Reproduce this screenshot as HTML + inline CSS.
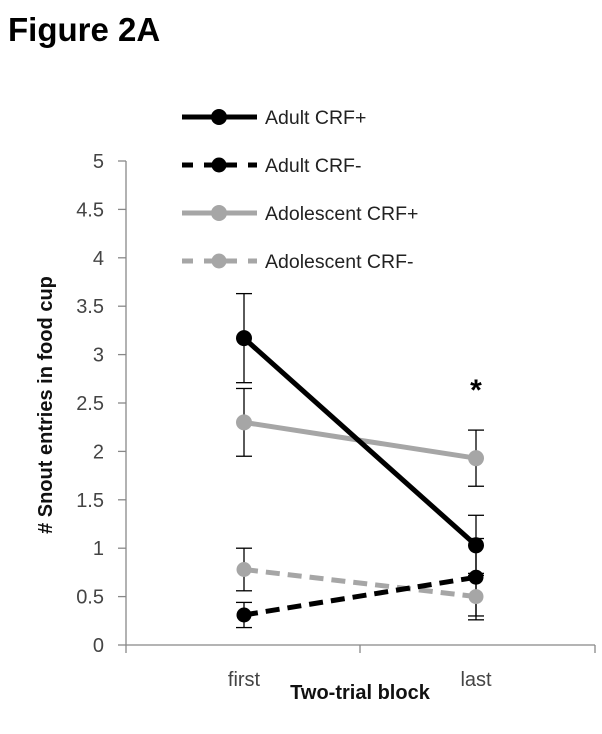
<!DOCTYPE html>
<html><head><meta charset="utf-8"><style>
body{margin:0;background:#fff;}
svg{display:block;font-family:"Liberation Sans",Arial,sans-serif;}
</style></head><body>
<svg width="602" height="734" viewBox="0 0 602 734">
<text x="8" y="41" font-size="33" font-weight="bold">Figure 2A</text>
<g id="axes"></g>
<g id="marks"></g>
<g id="legend"></g>
<text x="360" y="699" font-size="20" font-weight="bold" text-anchor="middle" fill="#111">Two-trial block</text>
<text transform="translate(52,405) rotate(-90)" font-size="20" font-weight="bold" text-anchor="middle" fill="#111"># Snout entries in food cup</text>
</svg>
<script>
const categories=["first","last"];
const seriesNames=["Adult CRF+","Adult CRF-","Adolescent CRF+","Adolescent CRF-"];
const adultPlus=[3.17,1.03], adultPlusErr=[0.46,0.31];
const adultMinus=[0.31,0.70], adultMinusErr=[0.13,0.40];
const adolPlus=[2.30,1.93], adolPlusErr=[0.35,0.29];
const adolMinus=[0.78,0.50], adolMinusErr=[0.22,0.24];
const yTicks=[0,0.5,1,1.5,2,2.5,3,3.5,4,4.5,5];
const yTickLabels=["0","0.5","1","1.5","2","2.5","3","3.5","4","4.5","5"];

const NS="http://www.w3.org/2000/svg";
const y=v=>645-v*96.8;
const x=i=>244+i*232;
function mk(tag,attrs,parent){const e=document.createElementNS(NS,tag);for(const k in attrs)e.setAttribute(k,attrs[k]);parent.appendChild(e);return e;}
const axes=document.getElementById('axes'),marks=document.getElementById('marks'),legend=document.getElementById('legend');

let yl=mk('line',{x1:126,y1:y(5),x2:126,y2:645,stroke:'#888','stroke-width':1.3},axes);


let xl=mk('line',{x1:126,y1:645,x2:595,y2:645,stroke:'#888','stroke-width':1.3},axes);


yTicks.forEach((v,i)=>{
  let t=mk('line',{x1:118,y1:y(v),x2:126,y2:y(v),stroke:'#888','stroke-width':1.3},axes);
  
  
  let l=mk('text',{x:104,y:y(v)+7,'font-size':20,'text-anchor':'end',fill:'#444'},axes);
  l.textContent=yTickLabels[i];
  
  
});
[126,360,595].forEach(px=>{
  let t=mk('line',{x1:px,y1:645,x2:px,y2:653,stroke:'#888','stroke-width':1.3},axes);
  
  
});
categories.forEach((c,i)=>{
  let l=mk('text',{x:x(i),y:686,'font-size':20,'text-anchor':'middle',fill:'#444'},axes);
  l.textContent=c;
  
  
});

const series=[
 {vals:adultPlus,err:adultPlusErr,color:'#000',dash:null},
 {vals:adultMinus,err:adultMinusErr,color:'#000',dash:'14,8'},
 {vals:adolPlus,err:adolPlusErr,color:'#a6a6a6',dash:null},
 {vals:adolMinus,err:adolMinusErr,color:'#a6a6a6',dash:'14,8'}
];
series.forEach(s=>{
  s.vals.forEach((v,i)=>{
    const g=mk('g',{stroke:'#000','stroke-width':1.3},marks);
    
    
    mk('line',{x1:x(i),y1:y(v+s.err[i]),x2:x(i),y2:y(v-s.err[i])},g);
    mk('line',{x1:x(i)-8,y1:y(v+s.err[i]),x2:x(i)+8,y2:y(v+s.err[i])},g);
    mk('line',{x1:x(i)-8,y1:y(v-s.err[i]),x2:x(i)+8,y2:y(v-s.err[i])},g);
  });
});
[3,2,1,0].forEach(k=>{
  const s=series[k];
  const ln=mk('line',{x1:x(0),y1:y(s.vals[0]),x2:x(1),y2:y(s.vals[1]),stroke:s.color,'stroke-width':5},marks);
  if(s.dash)ln.setAttribute('stroke-dasharray',s.dash);
  
  
  s.vals.forEach((v,i)=>{
    const c=mk('circle',{cx:x(i),cy:y(v),r:s.dash?7.5:8,fill:s.color},marks);
    
    
  });
});
const star=mk('text',{x:x(1),y:400,'font-size':30,'font-weight':'bold','text-anchor':'middle',fill:'#000'},marks);
star.textContent='*';



series.forEach((s,k)=>{
  const yy=117+k*48;
  const g=mk('g',{},legend);
  
  
  const ln=mk('line',{x1:182,y1:yy,x2:257,y2:yy,stroke:s.color,'stroke-width':5},g);
  if(s.dash)ln.setAttribute('stroke-dasharray','11,11');
  mk('circle',{cx:219,cy:yy,r:s.dash?7.5:8,fill:s.color},g);
  const t=mk('text',{x:265,y:yy+7,'font-size':19.5,fill:'#222'},g);
  t.textContent=seriesNames[k];
});
</script>
</body></html>
